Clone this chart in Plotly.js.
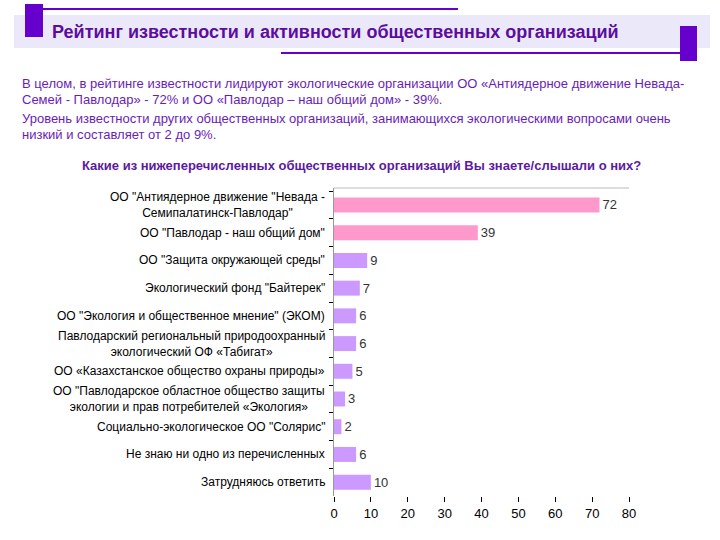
<!DOCTYPE html>
<html>
<head>
<meta charset="utf-8">
<script src="https://cdn.plot.ly/plotly-3.0.1.min.js"></script>
<style>
  body { margin: 0; background: #fff; }
  #graficPlotly { width: 720px; height: 540px; }
</style>
</head>
<body>
<div id="graficPlotly"></div>
<script>
// DADES DEL GRÀFIC
var organitzacions = [
    'ОО "Антиядерное движение "Невада -<br>Семипалатинск-Павлодар"',
    'ОО "Павлодар - наш общий дом"',
    'ОО "Защита окружающей среды"',
    'Экологический фонд "Байтерек"',
    'ОО "Экология и общественное мнение" (ЭКОМ)',
    'Павлодарский региональный природоохранный<br>экологический ОФ «Табигат»',
    'ОО «Казахстанское общество охраны природы»',
    'ОО "Павлодарское областное общество защиты<br>экологии и прав потребителей «Экология»',
    'Социально-экологическое ОО "Солярис"',
    'Не знаю ни одно из перечисленных',
    'Затрудняюсь ответить'
];
var percentatges = [72, 39, 9, 7, 6, 6, 5, 3, 2, 6, 10];
var colorsBarres = ['#FF99CC', '#FF99CC', '#CC99FF', '#CC99FF', '#CC99FF', '#CC99FF',
                    '#CC99FF', '#CC99FF', '#CC99FF', '#CC99FF', '#CC99FF'];
var ticksX = [0, 10, 20, 30, 40, 50, 60, 70, 80];

var titol = 'Рейтинг известности и активности общественных организаций';
var paragraf = [
    'В целом, в рейтинге известности лидируют экологические организации ОО «Антиядерное движение Невада-',
    'Семей - Павлодар» - 72% и ОО «Павлодар – наш общий дом» - 39%.',
    'Уровень известности других общественных организаций, занимающихся экологическими вопросами очень',
    'низкий и составляет от 2 до 9%.'
];
var pregunta = 'Какие из нижеперечисленных общественных организаций Вы знаете/слышали о них?';

// MARGES DE L'ÀREA DEL GRÀFIC (en píxels)
var L = 334, R = 629, T = 188, B = 496;
function px(x) { return (x - L) / (R - L); }   // píxel -> paper x
function py(y) { return (B - y) / (B - T); }   // píxel -> paper y

var morat = '#6600CC';

// CAPSAL: banda, rectangles i línies
var formes = [
    {type: 'rect', xref: 'paper', yref: 'paper', x0: px(14), x1: px(710), y0: py(15), y1: py(48),
     fillcolor: '#EBE9F9', line: {width: 0}, layer: 'below'},
    {type: 'line', xref: 'paper', yref: 'paper', x0: px(42), x1: px(458), y0: py(9), y1: py(9),
     line: {color: morat, width: 2}},
    {type: 'rect', xref: 'paper', yref: 'paper', x0: px(25), x1: px(43), y0: py(4), y1: py(37),
     fillcolor: morat, line: {width: 0}},
    {type: 'line', xref: 'paper', yref: 'paper', x0: px(281), x1: px(682), y0: py(53), y1: py(53),
     line: {color: morat, width: 2}},
    {type: 'rect', xref: 'paper', yref: 'paper', x0: px(680), x1: px(697), y0: py(26), y1: py(61),
     fillcolor: morat, line: {width: 0}},
    // línia superior de l'àrea del gràfic
    {type: 'line', xref: 'paper', yref: 'paper', x0: 0, x1: 1, y0: 1, y1: 1,
     line: {color: '#BBBBBB', width: 1}}
];

var anotacions = [];
anotacions.push({xref: 'paper', yref: 'paper', x: px(50), y: py(32), xanchor: 'left', yanchor: 'middle',
    text: '<b>' + titol + '</b>', showarrow: false,
    font: {family: 'Liberation Sans, Arial', size: 18, color: '#5C0D9E'}});

var liniesY = [83, 100, 118, 134];
for (var k = 0; k < paragraf.length; ++k) {
    anotacions.push({xref: 'paper', yref: 'paper', x: px(20), y: py(liniesY[k]), xanchor: 'left', yanchor: 'middle',
        text: paragraf[k], showarrow: false,
        font: {family: 'Liberation Sans, Arial', size: 13, color: '#6A1DB5'}});
}
anotacions.push({xref: 'paper', yref: 'paper', x: px(361), y: py(165), xanchor: 'center', yanchor: 'middle',
    text: '<b>' + pregunta + '</b>', showarrow: false,
    font: {family: 'Liberation Sans, Arial', size: 13, color: '#5C1AA0'}});

// etiquetes de categoria centrades (com a l'original)
for (var i = 0; i < organitzacions.length; ++i) {
    anotacions.push({xref: 'paper', yref: 'y', x: 0, y: organitzacions[i], xanchor: 'right', yanchor: 'middle',
        xshift: -7, align: 'center', text: organitzacions[i], showarrow: false,
        font: {family: 'Liberation Sans, Arial', size: 12, color: '#000000'}});
}

var dades = [{
    type: 'bar', orientation: 'h',
    x: percentatges, y: organitzacions,
    marker: {color: colorsBarres},
    text: percentatges.map(String), textposition: 'outside', cliponaxis: false,
    textfont: {family: 'Liberation Sans, Arial', size: 13, color: '#333333'},
    hoverinfo: 'none'
}];

var layout = {
    width: 720, height: 540,
    margin: {l: L, r: 720 - R, t: T, b: 540 - B, pad: 0},
    paper_bgcolor: '#FFFFFF', plot_bgcolor: '#FFFFFF',
    showlegend: false,
    bargap: 0.46,
    xaxis: {
        range: [0, 80], tickvals: ticksX, showgrid: false, zeroline: false,
        showline: false, ticks: 'outside', ticklen: 5, tickcolor: '#000000',
        tickfont: {family: 'Liberation Sans, Arial', size: 13, color: '#000000'}
    },
    yaxis: {
        autorange: 'reversed', showticklabels: false, showgrid: false,
        showline: true, linecolor: '#999999', linewidth: 1,
        ticks: 'outside', tickson: 'boundaries', ticklen: 4, tickcolor: '#000000'
    },
    shapes: formes,
    annotations: anotacions
};

Plotly.newPlot('graficPlotly', dades, layout, {staticPlot: true});
</script>
</body>
</html>
